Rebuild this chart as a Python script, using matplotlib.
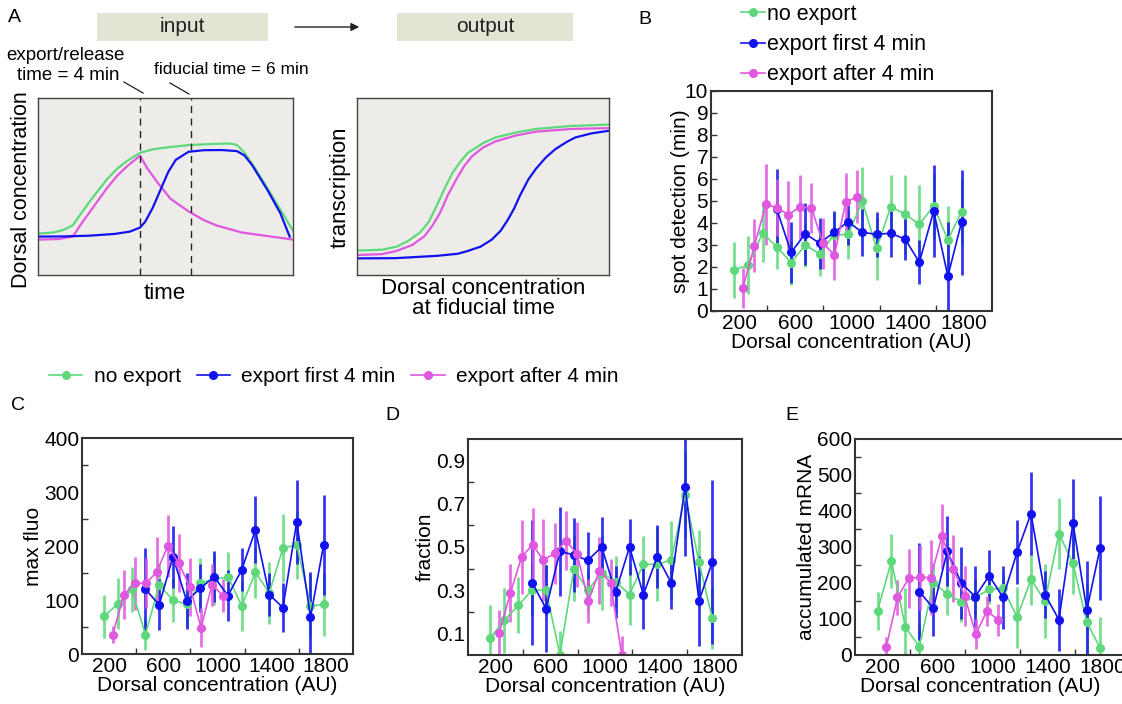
import numpy as np
import matplotlib
matplotlib.use("Agg")
from matplotlib import pyplot as plt
from matplotlib.patches import Rectangle, FancyArrowPatch
from matplotlib.lines import Line2D
from matplotlib.ticker import FixedLocator

plt.rcParams['font.family'] = ['Liberation Sans', 'DejaVu Sans']
NARROW = ['Liberation Sans Narrow', 'Liberation Sans', 'DejaVu Sans']

W, H = 1122, 704
nan = np.nan

GREEN = "#5fd87c"
BLUE = "#1212ee"
MAGENTA = "#df58df"
labels = ["no export", "export first 4 min", "export after 4 min"]

# ---- panel A schematic curves ----
t_green = [0, 0.6, 1.0, 1.36, 1.7, 2.0, 2.3, 2.7, 3.1, 3.5, 4.0, 4.5, 5.0, 5.9, 6.8, 7.5, 7.8, 8.1, 8.45, 9.0, 9.5, 10]
c_green = [0.234, 0.24, 0.255, 0.28, 0.35, 0.41, 0.466, 0.54, 0.60, 0.645, 0.69, 0.71, 0.72, 0.734, 0.74, 0.743, 0.735, 0.69, 0.617, 0.49, 0.37, 0.25]
t_blue = [0, 1, 2, 3, 3.6, 4.0, 4.2, 4.5, 4.8, 5.1, 5.4, 5.9, 6.5, 7.2, 7.8, 8.1, 8.4, 9.0, 9.5, 9.87]
c_blue = [0.217, 0.218, 0.222, 0.232, 0.245, 0.268, 0.30, 0.38, 0.48, 0.58, 0.65, 0.696, 0.705, 0.706, 0.70, 0.675, 0.62, 0.48, 0.35, 0.217]
t_mag = [0, 0.8, 1.36, 1.7, 2.0, 2.3, 2.7, 3.1, 3.5, 4.0, 4.3, 4.7, 5.2, 5.9, 6.5, 7.0, 8.0, 9.0, 10]
c_mag = [0.20, 0.203, 0.217, 0.29, 0.35, 0.41, 0.49, 0.56, 0.615, 0.674, 0.60, 0.52, 0.43, 0.36, 0.31, 0.28, 0.24, 0.22, 0.20]

d_green = [0, 0.1, 0.157, 0.2, 0.25, 0.285, 0.315, 0.345, 0.378, 0.41, 0.44, 0.5, 0.55, 0.63, 0.71, 0.85, 1.0]
r_green = [0.138, 0.143, 0.16, 0.19, 0.24, 0.30, 0.387, 0.48, 0.575, 0.64, 0.69, 0.745, 0.777, 0.805, 0.825, 0.842, 0.85]
d_mag = [0, 0.1, 0.157, 0.22, 0.268, 0.30, 0.33, 0.36, 0.394, 0.425, 0.457, 0.5, 0.55, 0.63, 0.71, 0.85, 1.0]
r_mag = [0.113, 0.118, 0.136, 0.17, 0.22, 0.28, 0.353, 0.45, 0.54, 0.615, 0.672, 0.72, 0.755, 0.788, 0.81, 0.825, 0.83]
d_blue = [0, 0.15, 0.315, 0.40, 0.44, 0.49, 0.535, 0.57, 0.6, 0.625, 0.646, 0.68, 0.71, 0.75, 0.787, 0.83, 0.866, 0.93, 1.0]
r_blue = [0.094, 0.095, 0.108, 0.12, 0.136, 0.16, 0.2, 0.25, 0.315, 0.38, 0.447, 0.54, 0.6, 0.665, 0.711, 0.75, 0.777, 0.80, 0.815]

# ---- data panels ----
x_no = [164, 265, 367, 468, 570, 671, 773, 874, 976, 1077, 1179, 1280, 1382, 1483, 1585, 1686, 1783]
x_first = x_no[3:]
x_after = [227, 309, 391, 471, 550, 633, 715, 797, 879, 959, 1041, 1122]

spot_no = [1.86, 2.09, 3.54, 2.92, 2.2, 3.0, 2.6, 3.46, 3.48, 4.98, 2.85, 4.74, 4.4, 3.94, 4.77, 3.23, 4.5]
spot_no_err = [1.27, 1.3, 1.32, 1.0, 1.0, 1.0, 1.0, 1.0, 1.1, 1.55, 1.42, 1.43, 1.8, 1.8, 1.5, 1.54, 1.5]
spot_first = [4.63, 2.66, 3.51, 3.08, 3.57, 4.05, 3.58, 3.48, 3.54, 3.26, 2.22, 4.54, 1.58, 4.03]
spot_first_err = [1.82, 1.39, 1.40, 1.17, 0.97, 1.04, 1.07, 1.03, 1.07, 0.94, 1.0, 2.1, 2.47, 2.38]
spot_after = [1.05, 2.97, 4.85, 4.69, 4.38, 4.72, 4.69, 3.08, 2.55, 4.94, 5.2, nan]
spot_after_err = [0.9, 1.21, 1.85, 1.3, 1.55, 1.48, 1.13, 1.17, 1.12, 1.33, 1.2, nan]

fluo_no = [70, 93, 120, 36, 128, 100, 92, 132, 138, 143, 89, 151, 113, 196, 202, 89, 92]
fluo_no_err = [40, 47, 42, 28, 40, 40, 40, 45, 47, 45, 47, 48, 58, 63, 63, 60, 58]
fluo_first = [120, 91, 180, 98, 122, 143, 108, 156, 230, 110, 86, 245, 68, 202]
fluo_first_err = [76, 47, 57, 52, 45, 47, 47, 40, 62, 40, 46, 78, 83, 92]
fluo_after = [36, 110, 131, 131, 151, 200, 168, 124, 49, 128, 108, nan]
fluo_after_err = [15, 46, 49, 46, 65, 57, 54, 53, 36, 39, 30, nan]

frac_no = [0.08, 0.16, 0.23, 0.30, 0.30, 0.0, 0.40, 0.30, 0.38, 0.34, 0.28, 0.42, 0.42, 0.44, 0.74, 0.43, 0.17]
frac_no_err = [0.15, 0.15, 0.13, 0.12, 0.12, 0.11, 0.15, 0.10, 0.17, 0.12, 0.14, 0.13, 0.17, 0.18, 0.2, 0.15, 0.14]
frac_first = [0.335, 0.215, 0.48, 0.463, 0.438, 0.50, 0.29, 0.50, 0.28, 0.455, 0.335, 0.78, 0.25, 0.43]
frac_first_err = [0.29, 0.2, 0.205, 0.17, 0.13, 0.14, 0.12, 0.13, 0.16, 0.145, 0.12, 0.32, 0.21, 0.38]
frac_after = [0.10, 0.286, 0.454, 0.51, 0.44, 0.47, 0.53, 0.466, 0.25, 0.39, 0.335, 0.0]
frac_after_err = [0.11, 0.135, 0.17, 0.17, 0.19, 0.14, 0.135, 0.15, 0.1, 0.155, 0.11, 0.09]

mrna_no = [123, 261, 77, 23, 200, 170, 147, 160, 182, 185, 105, 210, 149, 337, 255, 91, 19]
mrna_no_err = [53, 75, 110, 65, 55, 60, 54, 50, 40, 40, 85, 70, 103, 98, 85, 105, 86]
mrna_first = [176, 130, 288, 200, 162, 220, 160, 286, 393, 168, 98, 367, 125, 298]
mrna_first_err = [135, 76, 97, 101, 85, 71, 88, 88, 114, 65, 86, 122, 135, 144]
mrna_after = [21, 160, 213, 216, 215, 330, 240, 163, 58, 122, 98, nan]
mrna_after_err = [28, 48, 82, 90, 104, 90, 93, 83, 42, 42, 44, nan]

fig = plt.figure(figsize=(W / 100, H / 100), dpi=100)


def px_axes(l, t, r, b):
    return fig.add_axes([l / W, 1 - b / H, (r - l) / W, (b - t) / H])


def ftext(x, y, s, **kw):
    return fig.text(x / W, 1 - y / H, s, **kw)


# ---------------- panel A ----------------
ftext(14, 18, "A", fontsize=14, ha="center", va="center")
for (x0, x1, s) in [(97, 268, "input"), (397, 573, "output")]:
    fig.add_artist(Rectangle((x0 / W, 1 - 41 / H), (x1 - x0) / W, 28 / H,
                             transform=fig.transFigure, facecolor="#e4e4d5", edgecolor="none"))
    ftext((x0 + x1) / 2, 27, s, fontsize=15, family=NARROW, ha="center", va="center", color="#222222")
fig.add_artist(FancyArrowPatch((292 / W, 1 - 27 / H), (362 / W, 1 - 27 / H), transform=fig.transFigure,
                               arrowstyle="-|>", mutation_scale=12, lw=1.0, color="#222222"))

axL = px_axes(38, 98, 293, 275)
axL.set_facecolor("#edece8")
axL.plot(t_green, c_green, color=GREEN, lw=1.6)
axL.plot(t_mag, c_mag, color=MAGENTA, lw=1.6)
axL.plot(t_blue, c_blue, color=BLUE, lw=1.6)
axL.axvline(4, color="#222222", lw=1.0, ls=(0, (5, 4)))
axL.axvline(6, color="#222222", lw=1.0, ls=(0, (5, 4)))
axL.set_xlim(0, 10)
axL.set_ylim(0, 1)
axL.set_xticks([])
axL.set_yticks([])
for sp in axL.spines.values():
    sp.set_color("#444444")
    sp.set_linewidth(1.0)
ftext(22, 190, "Dorsal concentration", fontsize=15.5, family=NARROW, rotation=90, ha="center", va="center")
ftext(165, 293, "time", fontsize=16, family=NARROW, ha="center", va="center")
ftext(65, 56, "export/release", fontsize=13.5, family=NARROW, ha="center", va="center")
ftext(68, 75, "time = 4 min", fontsize=13.5, family=NARROW, ha="center", va="center")
ftext(231, 70, "fiducial time = 6 min", fontsize=12.5, family=NARROW, ha="center", va="center")
fig.add_artist(Line2D([124 / W, 143 / W], [1 - 82 / H, 1 - 93 / H], transform=fig.transFigure, color="#222222", lw=0.9))
fig.add_artist(Line2D([170 / W, 189 / W], [1 - 83 / H, 1 - 94 / H], transform=fig.transFigure, color="#222222", lw=0.9))

axR = px_axes(357, 98, 609, 275)
axR.set_facecolor("#edece8")
axR.plot(d_green, r_green, color=GREEN, lw=1.6)
axR.plot(d_mag, r_mag, color=MAGENTA, lw=1.6)
axR.plot(d_blue, r_blue, color=BLUE, lw=1.6)
axR.set_xlim(0, 1)
axR.set_ylim(0, 1)
axR.set_xticks([])
axR.set_yticks([])
for sp in axR.spines.values():
    sp.set_color("#444444")
    sp.set_linewidth(1.0)
ftext(340, 187, "transcription", fontsize=16, family=NARROW, rotation=90, ha="center", va="center")
ftext(483, 289, "Dorsal concentration", fontsize=16, family=NARROW, ha="center", va="center")
ftext(483, 309, "at fiducial time", fontsize=16, family=NARROW, ha="center", va="center")


# ---------------- data panels ----------------
def draw_series(ax, x, y, err, color):
    cont = ax.errorbar(x, y, yerr=err, fmt="-o", color=color, ms=5.5, lw=1.2,
                       elinewidth=2.0, capsize=0)
    for bc in cont[2]:
        bc.set_alpha(0.85)


def style_axes(ax, ylim, ymajor, yminor, ylabel, yfmt=None, ypad=1):
    ax.set_xlim(0, 2000)
    ax.set_ylim(*ylim)
    ax.xaxis.set_major_locator(FixedLocator([200, 600, 1000, 1400, 1800]))
    ax.xaxis.set_minor_locator(FixedLocator([400, 800, 1200, 1600]))
    ax.yaxis.set_major_locator(FixedLocator(ymajor))
    ax.yaxis.set_minor_locator(FixedLocator(yminor))
    if yfmt:
        ax.set_yticklabels([yfmt % v for v in ymajor])
    ax.tick_params(which="major", length=0, labelsize=15, pad=2)
    ax.tick_params(which="minor", direction="in", length=4, width=1, color="#333333")
    ax.set_xlabel("Dorsal concentration (AU)", fontsize=15, labelpad=0)
    ax.set_ylabel(ylabel, fontsize=15, labelpad=ypad)
    for sp in ax.spines.values():
        sp.set_color("#333333")
        sp.set_linewidth(1.5)


panels = [
    ((711, 91, 992, 311), "B", (645, 20), spot_no, spot_no_err, spot_first, spot_first_err,
     spot_after, spot_after_err, (0, 10), list(range(0, 11)), [], "spot detection (min)", None, -4),
    ((82, 438, 353, 654), "C", (18, 405), fluo_no, fluo_no_err, fluo_first, fluo_first_err,
     fluo_after, fluo_after_err, (0, 400), [0, 100, 200, 300, 400], [50, 150, 250, 350], "max fluo", None, 1),
    ((468, 439, 742, 655), "D", (392, 415), frac_no, frac_no_err, frac_first, frac_first_err,
     frac_after, frac_after_err, (0, 1.0), [0.1, 0.3, 0.5, 0.7, 0.9], [0.2, 0.4, 0.6, 0.8], "fraction", "%.1f", 1),
    ((855, 439, 1130, 655), "E", (792, 415), mrna_no, mrna_no_err, mrna_first, mrna_first_err,
     mrna_after, mrna_after_err, (0, 600), [0, 100, 200, 300, 400, 500, 600], [50, 150, 250, 350, 450, 550],
     "accumulated mRNA", None, 1),
]

for (rect, letter, lpos, yn, en, yf, ef, ya, ea, ylim, ymaj, ymin, ylab, yfmt, ypad) in panels:
    ax = px_axes(*rect)
    draw_series(ax, x_no, yn, en, GREEN)
    draw_series(ax, x_first, yf, ef, BLUE)
    draw_series(ax, x_after, ya, ea, MAGENTA)
    style_axes(ax, ylim, ymaj, ymin, ylab, yfmt, ypad)
    if letter == "B":
        ax.tick_params(axis="y", which="major", direction="in", length=4, width=1, color="#333333")
    if letter == "E":
        # the panel runs past the right edge; keep its axis title where the reference has it
        ax.xaxis.label.set_x((980 - rect[0]) / (rect[2] - rect[0]))
    ftext(lpos[0], lpos[1], letter, fontsize=14, ha="center", va="center")

handles = [Line2D([], [], color=c, marker="o", ms=5.5, lw=1.2) for c in (GREEN, BLUE, MAGENTA)]

# legend above panel B
fig.legend(handles, labels, loc="upper left", bbox_to_anchor=(741 / W, 1 - 4 / H), frameon=False,
           fontsize=15.5, handlelength=1.1, handletextpad=0.1, labelspacing=0.42, borderaxespad=0, borderpad=0)

# shared legend above panels C-E
fig.legend(handles, labels, loc="center left", bbox_to_anchor=(49 / W, 1 - 377 / H), frameon=False,
           ncol=3, fontsize=15, handlelength=1.6, handletextpad=0.55, columnspacing=0.75,
           borderaxespad=0, borderpad=0)

fig.savefig("out.png", dpi=100)
